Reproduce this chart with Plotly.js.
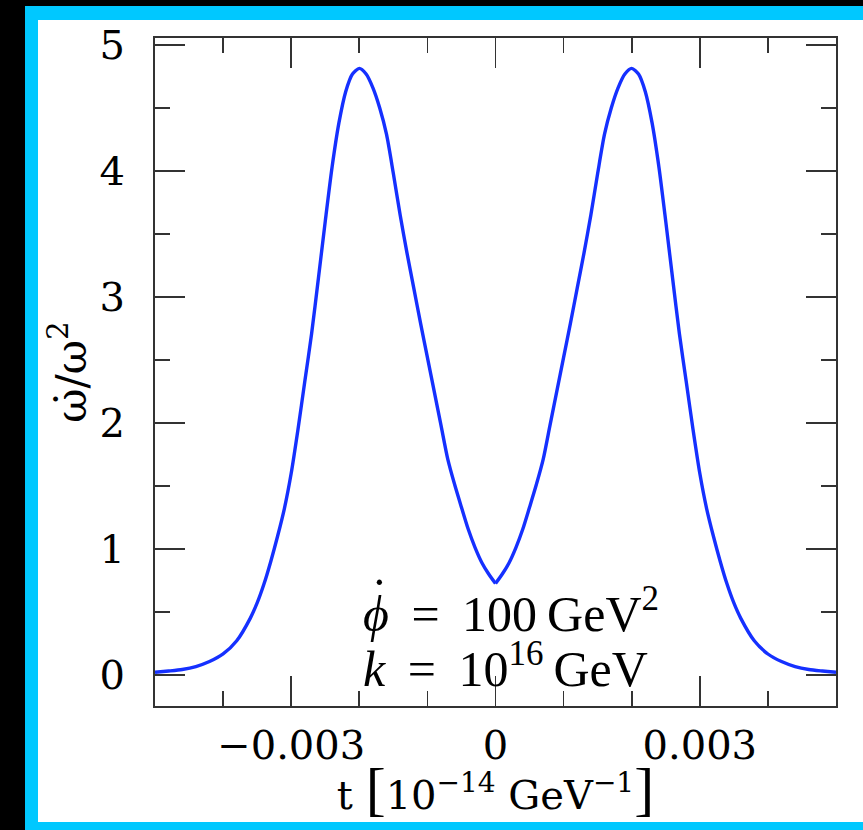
<!DOCTYPE html>
<html>
<head>
<meta charset="utf-8">
<script src="https://cdn.plot.ly/plotly-3.0.1.min.js"></script>
<style>
  html, body { margin:0; padding:0; background:#000; width:863px; height:830px; overflow:hidden; }
  #frame { position:absolute; left:25px; top:6px; width:838px; height:824px; background:#00c8ff; }
  #chart { position:absolute; left:38px; top:20px; width:825px; height:802px; background:#fff; }
</style>
</head>
<body>
<div id="frame"></div>
<div id="chart"></div>
<script>
// time t in units of 1e-14 GeV^-1 (left branch, up to the cusp at t = 0)
const tLeft = [
  -0.005,-0.0048,-0.0046,-0.0044,-0.0042,-0.004,-0.0038,-0.0036,-0.0035,-0.0034,
  -0.0033,-0.0032,-0.0031,-0.003,-0.0029,-0.0028,-0.0027,-0.0026,-0.0025,-0.0024,
  -0.0023,-0.0022,-0.0021,-0.002,-0.0019,-0.0018,-0.0017,-0.0016,-0.0015,-0.0014,
  -0.0013,-0.0012,-0.0011,-0.001,-0.0009,-0.0008,-0.0007,-0.0006,-0.0005,-0.0004,
  -0.0003,-0.0002,-0.0001,0
];
// omega-dot / omega^2 on the left branch
const ratioLeft = [
  0.02,0.03,0.042,0.065,0.105,0.165,0.27,0.45,0.57,0.72,
  0.90,1.10,1.32,1.60,1.95,2.33,2.71,3.15,3.60,4.03,
  4.38,4.63,4.77,4.815,4.77,4.66,4.50,4.29,3.98,3.65,
  3.35,3.07,2.79,2.52,2.25,1.98,1.71,1.51,1.33,1.155,
  1.01,0.89,0.80,0.724
];
// right branch, from the cusp at t = 0
const tRight = [
  0,0.0001,0.0002,0.0003,0.0004,0.0005,0.0006,0.0007,0.0008,0.0009,0.001,
  0.0011,0.0012,0.0013,0.0014,0.0015,0.0016,0.0017,0.0018,0.0019,0.002,
  0.0021,0.0022,0.0023,0.0024,0.0025,0.0026,0.0027,0.0028,0.0029,0.003,
  0.0031,0.0032,0.0033,0.0034,0.0035,0.0036,0.0038,0.004,0.0042,0.0044,
  0.0046,0.0048,0.005
];
const ratioRight = [
  0.724,0.80,0.89,1.01,1.155,1.33,1.51,1.71,1.98,2.25,2.52,
  2.79,3.07,3.35,3.65,3.98,4.29,4.50,4.66,4.77,4.815,
  4.77,4.63,4.38,4.03,3.60,3.15,2.71,2.33,1.95,1.60,
  1.32,1.10,0.90,0.72,0.57,0.45,0.27,0.165,0.105,0.065,
  0.042,0.03,0.02
];
const xTickVals = [-0.003, 0, 0.003];
const xTickText = ['\u22120.003', '0', '0.003'];
const yTickVals = [0, 1, 2, 3, 4, 5];
const yTickText = ['0', '1', '2', '3', '4', '5'];
const annotationLines = [
  '<i>\u03d5</i>\u2009 = \u2009100\u2009GeV<sup>2</sup>',
  '<i>k</i>\u2009 = \u200910<sup>16</sup>\u2009GeV'
];
const phiDot = '\u02d9';

const tickFont = {family: 'DejaVu Serif', size: 40, color: '#000'};
const axisCommon = {
  showline: true, linecolor: '#333', linewidth: 2, mirror: 'allticks',
  ticks: 'inside', ticklen: 30, tickwidth: 1.6, tickcolor: '#333',
  showgrid: false, zeroline: false, tickfont: tickFont, tickmode: 'array'
};
const lineStyle = {color: '#1530ff', width: 3.4, shape: 'spline', smoothing: 0.7};

const traces = [
  {x: tLeft, y: ratioLeft, type: 'scatter', mode: 'lines', line: lineStyle, hoverinfo: 'skip'},
  {x: tRight, y: ratioRight, type: 'scatter', mode: 'lines', line: lineStyle, hoverinfo: 'skip'}
];

const annFont = {family: 'Liberation Serif', size: 50, color: '#000'};
const layout = {
  width: 825, height: 802,
  margin: {l: 117, r: 27, t: 18, b: 116},
  paper_bgcolor: '#fff', plot_bgcolor: '#fff',
  showlegend: false,
  xaxis: Object.assign({}, axisCommon, {
    range: [-0.005, 0.005],
    tickvals: xTickVals, ticktext: xTickText,
    ticklabelstandoff: 3,
    minor: {dtick: 0.001, tick0: 0, ticks: 'inside', ticklen: 15, tickwidth: 1.6, tickcolor: '#333', showgrid: false},
    title: {
      text: 't <span style="font-family:Liberation Serif;font-size:60px">[</span>10<sup>\u221214</sup> GeV<sup>\u22121</sup><span style="font-family:Liberation Serif;font-size:60px">]</span>',
      font: {family: 'DejaVu Serif', size: 40, color: '#000'},
      standoff: 24
    }
  }),
  yaxis: Object.assign({}, axisCommon, {
    range: [-0.248, 5.056],
    tickvals: yTickVals, ticktext: yTickText,
    ticklabelstandoff: 20,
    minor: {dtick: 0.5, tick0: 0, ticks: 'inside', ticklen: 15, tickwidth: 1.6, tickcolor: '#333', showgrid: false},
    title: {
      text: '\u03c9\u0307/\u03c9<sup>2</sup>',
      font: {family: 'DejaVu Serif', size: 42, color: '#000'},
      standoff: 0
    }
  }),
  annotations: [
    {text: annotationLines[0], xref: 'paper', yref: 'paper', x: 0.302, y: 0.143,
     xanchor: 'left', yanchor: 'middle', showarrow: false, font: annFont},
    {text: phiDot, xref: 'paper', yref: 'paper', x: 0.330, y: 0.164,
     xanchor: 'center', yanchor: 'middle', showarrow: false, font: annFont},
    {text: annotationLines[1], xref: 'paper', yref: 'paper', x: 0.302, y: 0.060,
     xanchor: 'left', yanchor: 'middle', showarrow: false, font: annFont}
  ]
};

Plotly.newPlot('chart', traces, layout, {staticPlot: true, displayModeBar: false});
</script>
</body>
</html>
